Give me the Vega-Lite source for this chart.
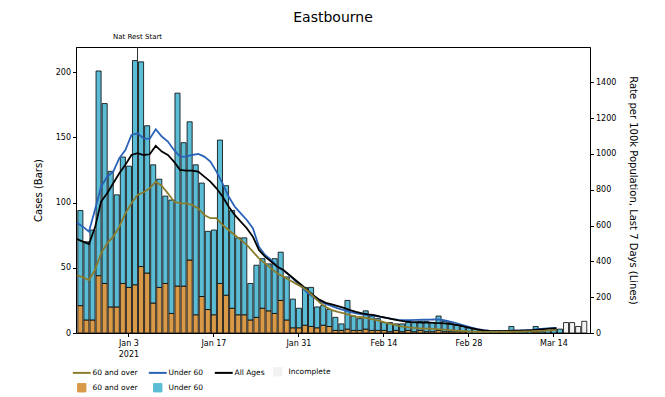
{
  "$schema": "https://vega.github.io/schema/vega-lite/v6.json",
  "width": 514,
  "height": 286,
  "autosize": "none",
  "padding": {"left": 76, "top": 47, "right": 75, "bottom": 64},
  "background": "white",
  "title": {"text": "Eastbourne", "fontSize": 14, "fontWeight": "normal", "font": "DejaVu Sans", "color": "black", "offset": 8, "anchor": "middle"},
  "datasets": {
    "bars": [
      {"date":"2020-12-26","key":"B60","cases":21},{"date":"2020-12-26","key":"BU60","cases":73},
      {"date":"2020-12-27","key":"B60","cases":10},{"date":"2020-12-27","key":"BU60","cases":60},
      {"date":"2020-12-28","key":"B60","cases":10},{"date":"2020-12-28","key":"BU60","cases":69},
      {"date":"2020-12-29","key":"B60","cases":44},{"date":"2020-12-29","key":"BU60","cases":157},
      {"date":"2020-12-30","key":"B60","cases":38},{"date":"2020-12-30","key":"BU60","cases":138},
      {"date":"2020-12-31","key":"B60","cases":20},{"date":"2020-12-31","key":"BU60","cases":104},
      {"date":"2021-01-01","key":"B60","cases":20},{"date":"2021-01-01","key":"BU60","cases":86},
      {"date":"2021-01-02","key":"B60","cases":38},{"date":"2021-01-02","key":"BU60","cases":97},
      {"date":"2021-01-03","key":"B60","cases":35},{"date":"2021-01-03","key":"BU60","cases":93},
      {"date":"2021-01-04","key":"B60","cases":37},{"date":"2021-01-04","key":"BU60","cases":172},
      {"date":"2021-01-05","key":"B60","cases":51},{"date":"2021-01-05","key":"BU60","cases":157},
      {"date":"2021-01-06","key":"B60","cases":46},{"date":"2021-01-06","key":"BU60","cases":113},
      {"date":"2021-01-07","key":"B60","cases":23},{"date":"2021-01-07","key":"BU60","cases":106},
      {"date":"2021-01-08","key":"B60","cases":35},{"date":"2021-01-08","key":"BU60","cases":83},
      {"date":"2021-01-09","key":"B60","cases":38},{"date":"2021-01-09","key":"BU60","cases":67},
      {"date":"2021-01-10","key":"B60","cases":15},{"date":"2021-01-10","key":"BU60","cases":87},
      {"date":"2021-01-11","key":"B60","cases":36},{"date":"2021-01-11","key":"BU60","cases":148},
      {"date":"2021-01-12","key":"B60","cases":36},{"date":"2021-01-12","key":"BU60","cases":110},
      {"date":"2021-01-13","key":"B60","cases":56},{"date":"2021-01-13","key":"BU60","cases":106},
      {"date":"2021-01-14","key":"B60","cases":14},{"date":"2021-01-14","key":"BU60","cases":115},
      {"date":"2021-01-15","key":"B60","cases":28},{"date":"2021-01-15","key":"BU60","cases":87},
      {"date":"2021-01-16","key":"B60","cases":18},{"date":"2021-01-16","key":"BU60","cases":60},
      {"date":"2021-01-17","key":"B60","cases":14},{"date":"2021-01-17","key":"BU60","cases":65},
      {"date":"2021-01-18","key":"B60","cases":38},{"date":"2021-01-18","key":"BU60","cases":110},
      {"date":"2021-01-19","key":"B60","cases":29},{"date":"2021-01-19","key":"BU60","cases":84},
      {"date":"2021-01-20","key":"B60","cases":19},{"date":"2021-01-20","key":"BU60","cases":75},
      {"date":"2021-01-21","key":"B60","cases":14},{"date":"2021-01-21","key":"BU60","cases":59},
      {"date":"2021-01-22","key":"B60","cases":14},{"date":"2021-01-22","key":"BU60","cases":59},
      {"date":"2021-01-23","key":"B60","cases":10},{"date":"2021-01-23","key":"BU60","cases":28},
      {"date":"2021-01-24","key":"B60","cases":12},{"date":"2021-01-24","key":"BU60","cases":40},
      {"date":"2021-01-25","key":"B60","cases":19},{"date":"2021-01-25","key":"BU60","cases":38},
      {"date":"2021-01-26","key":"B60","cases":17},{"date":"2021-01-26","key":"BU60","cases":36},
      {"date":"2021-01-27","key":"B60","cases":15},{"date":"2021-01-27","key":"BU60","cases":42},
      {"date":"2021-01-28","key":"B60","cases":25},{"date":"2021-01-28","key":"BU60","cases":37},
      {"date":"2021-01-29","key":"B60","cases":10},{"date":"2021-01-29","key":"BU60","cases":33},
      {"date":"2021-01-30","key":"B60","cases":4},{"date":"2021-01-30","key":"BU60","cases":22},
      {"date":"2021-01-31","key":"B60","cases":4},{"date":"2021-01-31","key":"BU60","cases":15},
      {"date":"2021-02-01","key":"B60","cases":6},{"date":"2021-02-01","key":"BU60","cases":29},
      {"date":"2021-02-02","key":"B60","cases":5},{"date":"2021-02-02","key":"BU60","cases":30},
      {"date":"2021-02-03","key":"B60","cases":4},{"date":"2021-02-03","key":"BU60","cases":16},
      {"date":"2021-02-04","key":"B60","cases":6},{"date":"2021-02-04","key":"BU60","cases":15},
      {"date":"2021-02-05","key":"B60","cases":5},{"date":"2021-02-05","key":"BU60","cases":13},
      {"date":"2021-02-06","key":"B60","cases":2},{"date":"2021-02-06","key":"BU60","cases":10},
      {"date":"2021-02-07","key":"B60","cases":2},{"date":"2021-02-07","key":"BU60","cases":5},
      {"date":"2021-02-08","key":"B60","cases":3},{"date":"2021-02-08","key":"BU60","cases":22},
      {"date":"2021-02-09","key":"B60","cases":2},{"date":"2021-02-09","key":"BU60","cases":11},
      {"date":"2021-02-10","key":"B60","cases":2},{"date":"2021-02-10","key":"BU60","cases":9},
      {"date":"2021-02-11","key":"B60","cases":3},{"date":"2021-02-11","key":"BU60","cases":14},
      {"date":"2021-02-12","key":"B60","cases":2},{"date":"2021-02-12","key":"BU60","cases":11},
      {"date":"2021-02-13","key":"B60","cases":2},{"date":"2021-02-13","key":"BU60","cases":9},
      {"date":"2021-02-14","key":"B60","cases":2},{"date":"2021-02-14","key":"BU60","cases":6},
      {"date":"2021-02-15","key":"B60","cases":1},{"date":"2021-02-15","key":"BU60","cases":7},
      {"date":"2021-02-16","key":"B60","cases":2},{"date":"2021-02-16","key":"BU60","cases":5},
      {"date":"2021-02-17","key":"B60","cases":1},{"date":"2021-02-17","key":"BU60","cases":6},
      {"date":"2021-02-18","key":"B60","cases":2},{"date":"2021-02-18","key":"BU60","cases":6},
      {"date":"2021-02-19","key":"B60","cases":1},{"date":"2021-02-19","key":"BU60","cases":7},
      {"date":"2021-02-20","key":"B60","cases":2},{"date":"2021-02-20","key":"BU60","cases":7},
      {"date":"2021-02-21","key":"B60","cases":1},{"date":"2021-02-21","key":"BU60","cases":8},
      {"date":"2021-02-22","key":"B60","cases":1},{"date":"2021-02-22","key":"BU60","cases":7},
      {"date":"2021-02-23","key":"B60","cases":2},{"date":"2021-02-23","key":"BU60","cases":11},
      {"date":"2021-02-24","key":"B60","cases":1},{"date":"2021-02-24","key":"BU60","cases":8},
      {"date":"2021-02-25","key":"B60","cases":1},{"date":"2021-02-25","key":"BU60","cases":7},
      {"date":"2021-02-26","key":"B60","cases":1},{"date":"2021-02-26","key":"BU60","cases":5},
      {"date":"2021-02-27","key":"B60","cases":1},{"date":"2021-02-27","key":"BU60","cases":4},
      {"date":"2021-02-28","key":"B60","cases":0},{"date":"2021-02-28","key":"BU60","cases":4},
      {"date":"2021-03-01","key":"B60","cases":0},{"date":"2021-03-01","key":"BU60","cases":3},
      {"date":"2021-03-02","key":"B60","cases":0},{"date":"2021-03-02","key":"BU60","cases":2},
      {"date":"2021-03-03","key":"B60","cases":0},{"date":"2021-03-03","key":"BU60","cases":1},
      {"date":"2021-03-04","key":"B60","cases":0},{"date":"2021-03-04","key":"BU60","cases":1},
      {"date":"2021-03-05","key":"B60","cases":0},{"date":"2021-03-05","key":"BU60","cases":0},
      {"date":"2021-03-06","key":"B60","cases":0},{"date":"2021-03-06","key":"BU60","cases":1},
      {"date":"2021-03-07","key":"B60","cases":1},{"date":"2021-03-07","key":"BU60","cases":4},
      {"date":"2021-03-08","key":"B60","cases":0},{"date":"2021-03-08","key":"BU60","cases":1},
      {"date":"2021-03-09","key":"B60","cases":0},{"date":"2021-03-09","key":"BU60","cases":1},
      {"date":"2021-03-10","key":"B60","cases":0},{"date":"2021-03-10","key":"BU60","cases":2},
      {"date":"2021-03-11","key":"B60","cases":1},{"date":"2021-03-11","key":"BU60","cases":4},
      {"date":"2021-03-12","key":"B60","cases":0},{"date":"2021-03-12","key":"BU60","cases":1},
      {"date":"2021-03-13","key":"B60","cases":0},{"date":"2021-03-13","key":"BU60","cases":2},
      {"date":"2021-03-14","key":"B60","cases":0},{"date":"2021-03-14","key":"BU60","cases":3},
      {"date":"2021-03-15","key":"B60","cases":0},{"date":"2021-03-15","key":"BU60","cases":3},
      {"date":"2021-03-16","key":"Inc","cases":8},
      {"date":"2021-03-17","key":"Inc","cases":8},
      {"date":"2021-03-18","key":"Inc","cases":5},
      {"date":"2021-03-19","key":"Inc","cases":9}
    ],
    "lines": [
      {"date":"2020-12-26","key":"LU60","rate":616},{"date":"2020-12-26","key":"LAll","rate":525},{"date":"2020-12-26","key":"L60","rate":324},
      {"date":"2020-12-27","key":"LU60","rate":594},{"date":"2020-12-27","key":"LAll","rate":510},{"date":"2020-12-27","key":"L60","rate":311},
      {"date":"2020-12-28","key":"LU60","rate":566},{"date":"2020-12-28","key":"LAll","rate":497},{"date":"2020-12-28","key":"L60","rate":296},
      {"date":"2020-12-29","key":"LU60","rate":690},{"date":"2020-12-29","key":"LAll","rate":590},{"date":"2020-12-29","key":"L60","rate":352},
      {"date":"2020-12-30","key":"LU60","rate":817},{"date":"2020-12-30","key":"LAll","rate":734},{"date":"2020-12-30","key":"L60","rate":445},
      {"date":"2020-12-31","key":"LU60","rate":873},{"date":"2020-12-31","key":"LAll","rate":780},{"date":"2020-12-31","key":"L60","rate":501},
      {"date":"2021-01-01","key":"LU60","rate":901},{"date":"2021-01-01","key":"LAll","rate":836},{"date":"2021-01-01","key":"L60","rate":538},
      {"date":"2021-01-02","key":"LU60","rate":976},{"date":"2021-01-02","key":"LAll","rate":892},{"date":"2021-01-02","key":"L60","rate":594},
      {"date":"2021-01-03","key":"LU60","rate":1022},{"date":"2021-01-03","key":"LAll","rate":939},{"date":"2021-01-03","key":"L60","rate":668},
      {"date":"2021-01-04","key":"LU60","rate":1106},{"date":"2021-01-04","key":"LAll","rate":994},{"date":"2021-01-04","key":"L60","rate":724},
      {"date":"2021-01-05","key":"LU60","rate":1115},{"date":"2021-01-05","key":"LAll","rate":1004},{"date":"2021-01-05","key":"L60","rate":771},
      {"date":"2021-01-06","key":"LU60","rate":1087},{"date":"2021-01-06","key":"LAll","rate":994},{"date":"2021-01-06","key":"L60","rate":786},
      {"date":"2021-01-07","key":"LU60","rate":1084},{"date":"2021-01-07","key":"LAll","rate":998},{"date":"2021-01-07","key":"L60","rate":808},
      {"date":"2021-01-08","key":"LU60","rate":1138},{"date":"2021-01-08","key":"LAll","rate":1045},{"date":"2021-01-08","key":"L60","rate":845},
      {"date":"2021-01-09","key":"LU60","rate":1097},{"date":"2021-01-09","key":"LAll","rate":1013},{"date":"2021-01-09","key":"L60","rate":821},
      {"date":"2021-01-10","key":"LU60","rate":1069},{"date":"2021-01-10","key":"LAll","rate":994},{"date":"2021-01-10","key":"L60","rate":780},
      {"date":"2021-01-11","key":"LU60","rate":1022},{"date":"2021-01-11","key":"LAll","rate":957},{"date":"2021-01-11","key":"L60","rate":734},
      {"date":"2021-01-12","key":"LU60","rate":985},{"date":"2021-01-12","key":"LAll","rate":911},{"date":"2021-01-12","key":"L60","rate":724},
      {"date":"2021-01-13","key":"LU60","rate":985},{"date":"2021-01-13","key":"LAll","rate":907},{"date":"2021-01-13","key":"L60","rate":724},
      {"date":"2021-01-14","key":"LU60","rate":994},{"date":"2021-01-14","key":"LAll","rate":907},{"date":"2021-01-14","key":"L60","rate":715},
      {"date":"2021-01-15","key":"LU60","rate":1000},{"date":"2021-01-15","key":"LAll","rate":901},{"date":"2021-01-15","key":"L60","rate":696},
      {"date":"2021-01-16","key":"LU60","rate":985},{"date":"2021-01-16","key":"LAll","rate":873},{"date":"2021-01-16","key":"L60","rate":659},
      {"date":"2021-01-17","key":"LU60","rate":957},{"date":"2021-01-17","key":"LAll","rate":845},{"date":"2021-01-17","key":"L60","rate":641},
      {"date":"2021-01-18","key":"LU60","rate":901},{"date":"2021-01-18","key":"LAll","rate":808},{"date":"2021-01-18","key":"L60","rate":641},
      {"date":"2021-01-19","key":"LU60","rate":836},{"date":"2021-01-19","key":"LAll","rate":762},{"date":"2021-01-19","key":"L60","rate":603},
      {"date":"2021-01-20","key":"LU60","rate":762},{"date":"2021-01-20","key":"LAll","rate":706},{"date":"2021-01-20","key":"L60","rate":575},
      {"date":"2021-01-21","key":"LU60","rate":706},{"date":"2021-01-21","key":"LAll","rate":659},{"date":"2021-01-21","key":"L60","rate":547},
      {"date":"2021-01-22","key":"LU60","rate":668},{"date":"2021-01-22","key":"LAll","rate":622},{"date":"2021-01-22","key":"L60","rate":520},
      {"date":"2021-01-23","key":"LU60","rate":631},{"date":"2021-01-23","key":"LAll","rate":585},{"date":"2021-01-23","key":"L60","rate":492},
      {"date":"2021-01-24","key":"LU60","rate":585},{"date":"2021-01-24","key":"LAll","rate":538},{"date":"2021-01-24","key":"L60","rate":454},
      {"date":"2021-01-25","key":"LU60","rate":482},{"date":"2021-01-25","key":"LAll","rate":464},{"date":"2021-01-25","key":"L60","rate":417},
      {"date":"2021-01-26","key":"LU60","rate":436},{"date":"2021-01-26","key":"LAll","rate":426},{"date":"2021-01-26","key":"L60","rate":389},
      {"date":"2021-01-27","key":"LU60","rate":408},{"date":"2021-01-27","key":"LAll","rate":399},{"date":"2021-01-27","key":"L60","rate":361},
      {"date":"2021-01-28","key":"LU60","rate":371},{"date":"2021-01-28","key":"LAll","rate":371},{"date":"2021-01-28","key":"L60","rate":333},
      {"date":"2021-01-29","key":"LU60","rate":352},{"date":"2021-01-29","key":"LAll","rate":352},{"date":"2021-01-29","key":"L60","rate":315},
      {"date":"2021-01-30","key":"LU60","rate":324},{"date":"2021-01-30","key":"LAll","rate":324},{"date":"2021-01-30","key":"L60","rate":296},
      {"date":"2021-01-31","key":"LU60","rate":290},{"date":"2021-01-31","key":"LAll","rate":296},{"date":"2021-01-31","key":"L60","rate":277},
      {"date":"2021-02-01","key":"LU60","rate":258},{"date":"2021-02-01","key":"LAll","rate":268},{"date":"2021-02-01","key":"L60","rate":259},
      {"date":"2021-02-02","key":"LU60","rate":225},{"date":"2021-02-02","key":"LAll","rate":238},{"date":"2021-02-02","key":"L60","rate":236},
      {"date":"2021-02-03","key":"LU60","rate":200},{"date":"2021-02-03","key":"LAll","rate":210},{"date":"2021-02-03","key":"L60","rate":203},
      {"date":"2021-02-04","key":"LU60","rate":178},{"date":"2021-02-04","key":"LAll","rate":185},{"date":"2021-02-04","key":"L60","rate":170},
      {"date":"2021-02-05","key":"LU60","rate":162},{"date":"2021-02-05","key":"LAll","rate":168},{"date":"2021-02-05","key":"L60","rate":145},
      {"date":"2021-02-06","key":"LU60","rate":150},{"date":"2021-02-06","key":"LAll","rate":160},{"date":"2021-02-06","key":"L60","rate":128},
      {"date":"2021-02-07","key":"LU60","rate":138},{"date":"2021-02-07","key":"LAll","rate":150},{"date":"2021-02-07","key":"L60","rate":118},
      {"date":"2021-02-08","key":"LU60","rate":128},{"date":"2021-02-08","key":"LAll","rate":140},{"date":"2021-02-08","key":"L60","rate":110},
      {"date":"2021-02-09","key":"LU60","rate":118},{"date":"2021-02-09","key":"LAll","rate":128},{"date":"2021-02-09","key":"L60","rate":100},
      {"date":"2021-02-10","key":"LU60","rate":110},{"date":"2021-02-10","key":"LAll","rate":118},{"date":"2021-02-10","key":"L60","rate":92},
      {"date":"2021-02-11","key":"LU60","rate":104},{"date":"2021-02-11","key":"LAll","rate":110},{"date":"2021-02-11","key":"L60","rate":88},
      {"date":"2021-02-12","key":"LU60","rate":100},{"date":"2021-02-12","key":"LAll","rate":104},{"date":"2021-02-12","key":"L60","rate":82},
      {"date":"2021-02-13","key":"LU60","rate":96},{"date":"2021-02-13","key":"LAll","rate":100},{"date":"2021-02-13","key":"L60","rate":75},
      {"date":"2021-02-14","key":"LU60","rate":90},{"date":"2021-02-14","key":"LAll","rate":92},{"date":"2021-02-14","key":"L60","rate":66},
      {"date":"2021-02-15","key":"LU60","rate":84},{"date":"2021-02-15","key":"LAll","rate":85},{"date":"2021-02-15","key":"L60","rate":56},
      {"date":"2021-02-16","key":"LU60","rate":78},{"date":"2021-02-16","key":"LAll","rate":78},{"date":"2021-02-16","key":"L60","rate":48},
      {"date":"2021-02-17","key":"LU60","rate":73},{"date":"2021-02-17","key":"LAll","rate":70},{"date":"2021-02-17","key":"L60","rate":40},
      {"date":"2021-02-18","key":"LU60","rate":72},{"date":"2021-02-18","key":"LAll","rate":65},{"date":"2021-02-18","key":"L60","rate":34},
      {"date":"2021-02-19","key":"LU60","rate":72},{"date":"2021-02-19","key":"LAll","rate":62},{"date":"2021-02-19","key":"L60","rate":30},
      {"date":"2021-02-20","key":"LU60","rate":73},{"date":"2021-02-20","key":"LAll","rate":60},{"date":"2021-02-20","key":"L60","rate":27},
      {"date":"2021-02-21","key":"LU60","rate":74},{"date":"2021-02-21","key":"LAll","rate":58},{"date":"2021-02-21","key":"L60","rate":25},
      {"date":"2021-02-22","key":"LU60","rate":75},{"date":"2021-02-22","key":"LAll","rate":58},{"date":"2021-02-22","key":"L60","rate":24},
      {"date":"2021-02-23","key":"LU60","rate":76},{"date":"2021-02-23","key":"LAll","rate":56},{"date":"2021-02-23","key":"L60","rate":22},
      {"date":"2021-02-24","key":"LU60","rate":74},{"date":"2021-02-24","key":"LAll","rate":55},{"date":"2021-02-24","key":"L60","rate":20},
      {"date":"2021-02-25","key":"LU60","rate":68},{"date":"2021-02-25","key":"LAll","rate":52},{"date":"2021-02-25","key":"L60","rate":17},
      {"date":"2021-02-26","key":"LU60","rate":60},{"date":"2021-02-26","key":"LAll","rate":48},{"date":"2021-02-26","key":"L60","rate":14},
      {"date":"2021-02-27","key":"LU60","rate":50},{"date":"2021-02-27","key":"LAll","rate":42},{"date":"2021-02-27","key":"L60","rate":12},
      {"date":"2021-02-28","key":"LU60","rate":40},{"date":"2021-02-28","key":"LAll","rate":34},{"date":"2021-02-28","key":"L60","rate":10},
      {"date":"2021-03-01","key":"LU60","rate":30},{"date":"2021-03-01","key":"LAll","rate":27},{"date":"2021-03-01","key":"L60","rate":8},
      {"date":"2021-03-02","key":"LU60","rate":22},{"date":"2021-03-02","key":"LAll","rate":20},{"date":"2021-03-02","key":"L60","rate":7},
      {"date":"2021-03-03","key":"LU60","rate":16},{"date":"2021-03-03","key":"LAll","rate":15},{"date":"2021-03-03","key":"L60","rate":6},
      {"date":"2021-03-04","key":"LU60","rate":12},{"date":"2021-03-04","key":"LAll","rate":12},{"date":"2021-03-04","key":"L60","rate":6},
      {"date":"2021-03-05","key":"LU60","rate":11},{"date":"2021-03-05","key":"LAll","rate":11},{"date":"2021-03-05","key":"L60","rate":6},
      {"date":"2021-03-06","key":"LU60","rate":11},{"date":"2021-03-06","key":"LAll","rate":11},{"date":"2021-03-06","key":"L60","rate":6},
      {"date":"2021-03-07","key":"LU60","rate":12},{"date":"2021-03-07","key":"LAll","rate":12},{"date":"2021-03-07","key":"L60","rate":7},
      {"date":"2021-03-08","key":"LU60","rate":13},{"date":"2021-03-08","key":"LAll","rate":13},{"date":"2021-03-08","key":"L60","rate":8},
      {"date":"2021-03-09","key":"LU60","rate":14},{"date":"2021-03-09","key":"LAll","rate":13},{"date":"2021-03-09","key":"L60","rate":8},
      {"date":"2021-03-10","key":"LU60","rate":16},{"date":"2021-03-10","key":"LAll","rate":14},{"date":"2021-03-10","key":"L60","rate":9},
      {"date":"2021-03-11","key":"LU60","rate":18},{"date":"2021-03-11","key":"LAll","rate":16},{"date":"2021-03-11","key":"L60","rate":10},
      {"date":"2021-03-12","key":"LU60","rate":21},{"date":"2021-03-12","key":"LAll","rate":19},{"date":"2021-03-12","key":"L60","rate":12},
      {"date":"2021-03-13","key":"LU60","rate":24},{"date":"2021-03-13","key":"LAll","rate":22},{"date":"2021-03-13","key":"L60","rate":13},
      {"date":"2021-03-14","key":"LU60","rate":27},{"date":"2021-03-14","key":"LAll","rate":25},{"date":"2021-03-14","key":"L60","rate":15},
      {"date":"2021-03-15","key":"LU60","rate":28},{"date":"2021-03-15","key":"LAll","rate":27},{"date":"2021-03-15","key":"L60","rate":16}
    ],
    "events": [{"date":"2021-01-05","label":"Nat Rest Start"}]
  },
  "encoding": {
    "x": {
      "field": "date", "type": "temporal", "timeUnit": "utcyearmonthdate", "title": null,
      "scale": {"domain": [
        {"year": 2020, "month": 12, "date": 25, "hours": 20, "minutes": 45, "utc": true},
        {"year": 2021, "month": 3, "date": 20, "hours": 12, "minutes": 45, "utc": true}
      ]},
      "axis": {
        "values": [
          {"year": 2021, "month": 1, "date": 3, "hours": 12, "utc": true},
          {"year": 2021, "month": 1, "date": 17, "hours": 12, "utc": true},
          {"year": 2021, "month": 1, "date": 31, "hours": 12, "utc": true},
          {"year": 2021, "month": 2, "date": 14, "hours": 12, "utc": true},
          {"year": 2021, "month": 2, "date": 28, "hours": 12, "utc": true},
          {"year": 2021, "month": 3, "date": 14, "hours": 12, "utc": true}
        ],
        "labelExpr": "(utcmonth(datum.value) == 0 && utcdate(datum.value) == 3) ? ['Jan 3', '2021'] : utcFormat(datum.value, '%b %-d')",
        "labelAngle": 0, "labelFontSize": 8, "tickSize": 3.5, "labelPadding": 3, "labelLineHeight": 11
      }
    }
  },
  "layer": [
    {
      "layer": [
        {
          "data": {"name": "bars"},
          "mark": {"type": "bar", "stroke": "black", "strokeWidth": 0.8},
          "encoding": {
            "y": {
              "field": "cases", "type": "quantitative", "stack": "zero",
              "scale": {"domain": [0, 219.4], "nice": false},
              "axis": {"title": "Cases (Bars)", "values": [0, 50, 100, 150, 200], "orient": "left", "titlePadding": 12, "labelFontSize": 8, "titleFontSize": 10, "tickSize": 3.5}
            },
            "order": {"field": "key", "sort": "ascending"},
            "color": {
              "field": "key", "type": "nominal",
              "scale": {"domain": ["L60", "LU60", "LAll", "Inc", "B60", "BU60"], "range": ["#8B7D2E", "#2A62B8", "#000000", "#F2F2F2", "#D99A48", "#5BBCD6"]},
              "legend": {
                "orient": "none", "legendX": 2, "legendY": 321, "columns": 4, "direction": "horizontal", "title": null,
                "labelFontSize": 7.5, "symbolSize": 300, "columnPadding": 6, "rowPadding": 3, "labelOffset": 7,
                "labelExpr": "datum.value == 'L60' || datum.value == 'B60' ? '60 and over' : (datum.value == 'LU60' || datum.value == 'BU60') ? 'Under 60' : datum.value == 'LAll' ? 'All Ages' : 'Incomplete'",
                "encode": {"symbols": {"update": {
                  "shape": {"signal": "indexof(['L60','LU60','LAll'], datum.value) >= 0 ? 'stroke' : 'square'"},
                  "fill": {"signal": "indexof(['L60','LU60','LAll'], datum.value) >= 0 ? 'transparent' : scale('color', datum.value)"},
                  "stroke": {"signal": "indexof(['L60','LU60','LAll'], datum.value) >= 0 ? scale('color', datum.value) : '#000000'"},
                  "strokeWidth": {"signal": "indexof(['L60','LU60','LAll'], datum.value) >= 0 ? 2 : 1"},
                  "size": {"signal": "indexof(['L60','LU60','LAll'], datum.value) >= 0 ? 320 : 70"},
                  "opacity": {"value": 1},
                  "strokeOpacity": {"value": 1},
                  "fillOpacity": {"value": 1}
                }}}
              }
            }
          }
        },
        {
          "data": {"name": "events"},
          "mark": {"type": "rule", "color": "#333333", "strokeWidth": 1, "timeUnitBandPosition": 0.5},
          "encoding": {}
        },
        {
          "data": {"name": "events"},
          "mark": {"type": "text", "fontSize": 7, "dy": -10, "color": "black", "timeUnitBandPosition": 0.5},
          "encoding": {"y": {"datum": 219.4, "type": "quantitative"}, "text": {"field": "label"}}
        }
      ]
    },
    {
      "data": {"name": "lines"},
      "mark": {"type": "line", "strokeWidth": 1.8, "timeUnitBandPosition": 0.5},
      "encoding": {
        "y": {
          "field": "rate", "type": "quantitative",
          "scale": {"domain": [0, 1597], "nice": false},
          "axis": {"title": "Rate per 100k Population, Last 7 Days (Lines)", "orient": "right", "format": "d", "values": [0, 200, 400, 600, 800, 1000, 1200, 1400], "titlePadding": 12, "labelFontSize": 8, "titleFontSize": 10, "tickSize": 3.5}
        },
        "color": {
          "field": "key", "type": "nominal",
          "scale": {"domain": ["L60", "LU60", "LAll", "Inc", "B60", "BU60"], "range": ["#8B7D2E", "#2A62B8", "#000000", "#F2F2F2", "#D99A48", "#5BBCD6"]},
          "legend": {
            "orient": "none", "legendX": 2, "legendY": 321, "columns": 4, "direction": "horizontal", "title": null,
            "labelFontSize": 7.5, "symbolSize": 300, "columnPadding": 6, "rowPadding": 3, "labelOffset": 7,
            "labelExpr": "datum.value == 'L60' || datum.value == 'B60' ? '60 and over' : (datum.value == 'LU60' || datum.value == 'BU60') ? 'Under 60' : datum.value == 'LAll' ? 'All Ages' : 'Incomplete'",
            "encode": {"symbols": {"update": {
              "shape": {"signal": "indexof(['L60','LU60','LAll'], datum.value) >= 0 ? 'stroke' : 'square'"},
              "fill": {"signal": "indexof(['L60','LU60','LAll'], datum.value) >= 0 ? 'transparent' : scale('color', datum.value)"},
              "stroke": {"signal": "indexof(['L60','LU60','LAll'], datum.value) >= 0 ? scale('color', datum.value) : '#000000'"},
              "strokeWidth": {"signal": "indexof(['L60','LU60','LAll'], datum.value) >= 0 ? 2 : 1"},
              "size": {"signal": "indexof(['L60','LU60','LAll'], datum.value) >= 0 ? 320 : 70"},
              "opacity": {"value": 1},
              "strokeOpacity": {"value": 1},
              "fillOpacity": {"value": 1}
            }}}
          }
        }
      }
    }
  ],
  "resolve": {"scale": {"y": "independent"}},
  "config": {
    "font": "DejaVu Sans",
    "view": {"stroke": "black", "strokeWidth": 1},
    "axis": {"grid": false, "domainColor": "black", "tickColor": "black", "labelColor": "black", "titleColor": "black", "titleFontWeight": "normal", "labelFont": "DejaVu Sans", "titleFont": "DejaVu Sans"},
    "legend": {"labelFont": "DejaVu Sans", "labelColor": "black"}
  }
}
